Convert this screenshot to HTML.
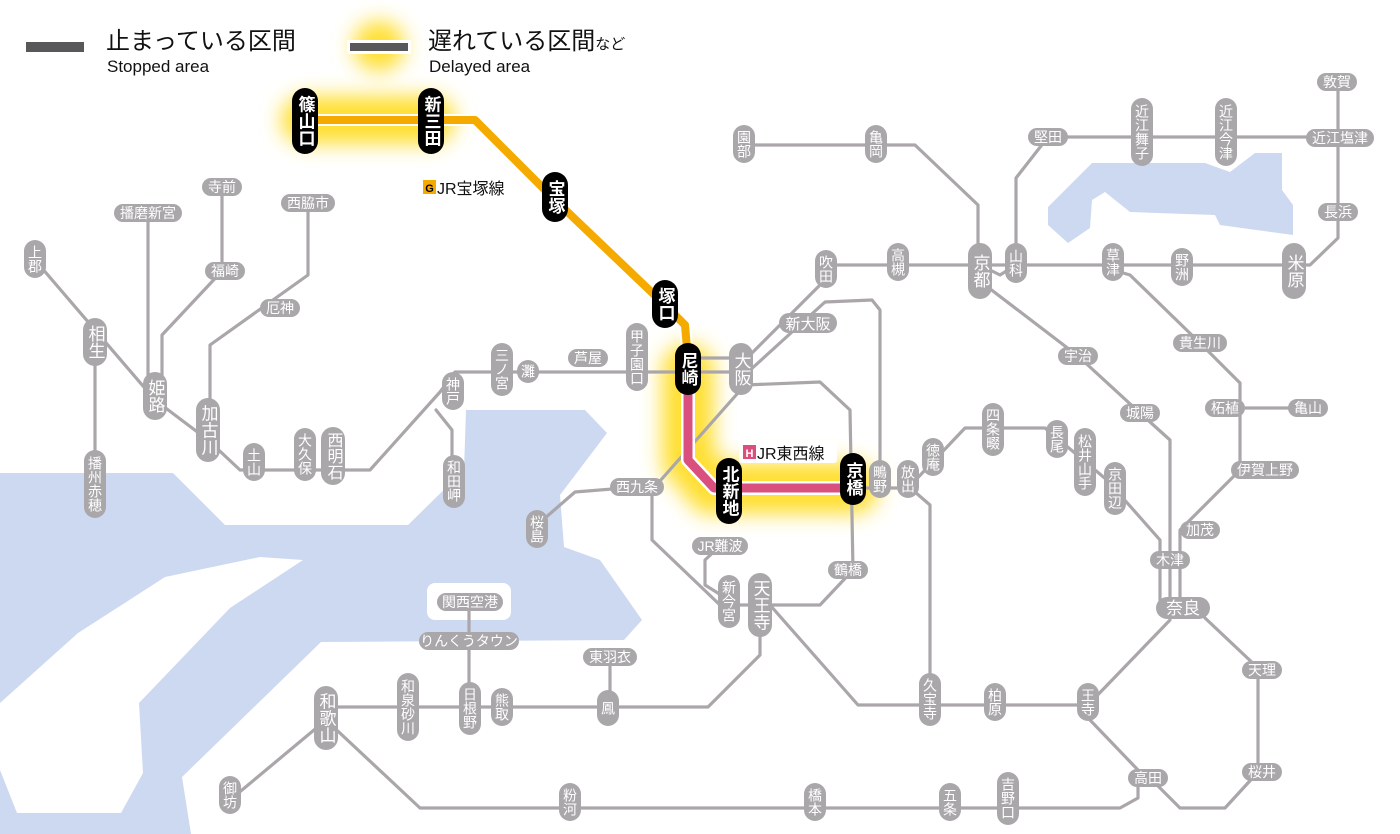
<!DOCTYPE html>
<html><head><meta charset="utf-8"><style>
html,body{margin:0;padding:0;background:#fff;}
svg{display:block;font-family:"Liberation Sans","Noto Sans CJK JP",sans-serif;}
.ln{fill:none;stroke:#aaa6aa;stroke-width:3.2;stroke-linejoin:round;stroke-linecap:round;}
.gp{fill:#a9a7a9;}
.bp{fill:#000;}
.t{fill:#fff;font-size:14px;text-anchor:middle;}
.tl{fill:#fff;font-size:17px;text-anchor:middle;}
.v{fill:#fff;font-size:14px;text-anchor:middle;writing-mode:vertical-rl;dominant-baseline:central;}
.vl{fill:#fff;font-size:17px;text-anchor:middle;writing-mode:vertical-rl;dominant-baseline:central;}
.vb{fill:#fff;font-size:17px;font-weight:bold;text-anchor:middle;writing-mode:vertical-rl;dominant-baseline:central;}
</style></head><body>
<svg width="1400" height="834" viewBox="0 0 1400 834">
<defs>
<filter id="blur" x="-50%" y="-50%" width="200%" height="200%"><feGaussianBlur stdDeviation="10"/></filter>
</defs>
<!-- water -->
<g fill="#cdd9f1">
<path d="M0,473 L173,473 L225,525 L408,525 L464,470 L466,410 L585,410 L607,433 L560,495 L564,547 L600,560 L642,620 L624,640 L321,642 L182,777 L191,834 L0,834 Z"/>
<path d="M1048,207 L1048,225 L1068,243 L1090,228 L1092,200 L1105,192 L1130,212 L1215,215 L1220,225 L1293,235 L1293,205 L1282,190 L1282,153 L1255,153 L1230,172 L1205,163 L1092,163 Z"/>
</g>
<path d="M0,703 L78,633 L165,577 L260,557 L303,560 L230,608 L139,703 L143,773 L121,813 L17,813 L0,770 Z" fill="#fff"/>
<rect x="427" y="583" width="84" height="37" rx="8" fill="#fff"/>
<!-- glows -->
<g filter="url(#blur)" fill="none" stroke="#ffdf30" stroke-linecap="round">
<path d="M305,120 L431,120" stroke-width="48"/>
<path d="M688,370 L688,460 L712,488 L853,488" stroke-width="52"/>
<path d="M378,46 L380,46" stroke-width="50"/>
</g>
<!-- gray lines -->
<g class="ln">
<path d="M35,260 L155,400 L208,440 L240,470 L370,470 L440,392 L455,372 L745,372"/>
<path d="M688,358 L745,358"/>
<path d="M95,340 L95,480"/>
<path d="M148,213 L148,392"/>
<path d="M222,187 L222,271 L162,335 L162,392"/>
<path d="M308,203 L308,275 L210,345 L210,420"/>
<path d="M436,410 L452,430 L452,480"/>
<path d="M745,385 L820,382 L850,410 L853,570 L820,605 L720,605 L652,540 L652,490 L745,385"/>
<path d="M537,525 L575,492 L637,487"/>
<path d="M745,360 L822,283 L835,265 L1310,265 L1338,238 L1338,82"/>
<path d="M748,372 L825,302 L872,300 L880,310 L880,480"/>
<path d="M980,265 L1000,275 L1016,265"/>
<path d="M1016,265 L1016,178 L1048,137 L1338,137"/>
<path d="M978,250 L978,205 L915,145 L744,145"/>
<path d="M1113,270 L1130,275 L1200,343 L1240,383 L1240,470 L1180,530 L1180,600"/>
<path d="M1240,408 L1308,408"/>
<path d="M985,285 L1078,356 L1140,413 L1170,440 L1170,600"/>
<path d="M853,488 L908,488 L965,428 L1045,428 L1107,480 L1160,540 L1160,600"/>
<path d="M915,492 L930,505 L930,705"/>
<path d="M770,605 L858,705 L1088,705 L1170,620"/>
<path d="M1205,618 L1258,668 L1258,772 L1225,808 L1180,808 L1150,778"/>
<path d="M1090,720 L1138,770 L1138,798 L1120,808 L420,808 L326,720 L230,800"/>
<path d="M760,620 L760,655 L708,707 L330,707"/>
<path d="M469,602 L469,705"/>
<path d="M610,657 L610,705"/>
<path d="M720,546 L705,560 L705,585 L729,600"/>
</g>
<!-- highlighted lines -->
<g fill="none" stroke-linejoin="round" stroke-linecap="round">
<path d="M305,120 L475,120 L555,200 L665,305 L685,325 L688,360" stroke="#fff" stroke-width="12"/>
<path d="M305,120 L475,120 L555,200 L665,305 L685,325 L688,360" stroke="#f5aa00" stroke-width="8"/>
<path d="M688,370 L688,460 L714,488 L853,488" stroke="#fff" stroke-width="14"/>
<path d="M688,370 L688,460 L714,488 L853,488" stroke="#d9507f" stroke-width="9"/>
</g>
<!-- legend -->
<rect x="26" y="42" width="58" height="10" fill="#58585a"/>
<rect x="347" y="40" width="64" height="14" fill="#fff"/>
<rect x="350" y="43" width="58" height="8" fill="#58585a"/>
<text x="106" y="49" font-size="24" fill="#111">止まっている区間</text>
<text x="107" y="72" font-size="17" fill="#111">Stopped area</text>
<text x="428" y="49" font-size="24" fill="#111">遅れている区間<tspan font-size="15">など</tspan></text>
<text x="429" y="72" font-size="17" fill="#111">Delayed area</text>
<!-- line labels -->
<rect x="419" y="176" width="100" height="22" rx="3" fill="#fff"/>
<rect x="423" y="180" width="13" height="14" fill="#f5aa00"/>
<text x="429.5" y="192" font-size="11" font-weight="bold" text-anchor="middle" fill="#000">G</text>
<text x="437" y="194" font-size="16" fill="#111">JR宝塚線</text>
<rect x="739" y="441" width="98" height="22" rx="3" fill="#fff"/>
<rect x="743" y="445" width="13" height="14" fill="#d9507f"/>
<text x="749.5" y="457" font-size="11" font-weight="bold" text-anchor="middle" fill="#fff">H</text>
<text x="757" y="459" font-size="16" fill="#111">JR東西線</text>
<!-- vertical gray labels -->
<g>
<rect class="gp" x="24" y="240" width="22" height="38" rx="11"/><text class="v" x="35" y="259">上郡</text>
<rect class="gp" x="83" y="318" width="24" height="48" rx="12"/><text class="vl" x="95" y="342">相生</text>
<rect class="gp" x="84" y="450" width="22" height="68" rx="11"/><text class="v" x="95" y="484">播州赤穂</text>
<rect class="gp" x="143" y="372" width="24" height="48" rx="12"/><text class="vl" x="155" y="396">姫路</text>
<rect class="gp" x="196" y="398" width="24" height="64" rx="12"/><text class="vl" x="208" y="430">加古川</text>
<rect class="gp" x="243" y="443" width="22" height="38" rx="11"/><text class="v" x="254" y="462">土山</text>
<rect class="gp" x="294" y="428" width="22" height="53" rx="11"/><text class="v" x="305" y="454">大久保</text>
<rect class="gp" x="321" y="427" width="24" height="58" rx="12"/><text class="v" x="333" y="456" style="font-size:16px">西明石</text>
<rect class="gp" x="442" y="372" width="22" height="38" rx="11"/><text class="v" x="453" y="391">神戸</text>
<rect class="gp" x="443" y="455" width="22" height="53" rx="11"/><text class="v" x="454" y="481">和田岬</text>
<rect class="gp" x="491" y="343" width="22" height="53" rx="11"/><text class="v" x="502" y="369">三ノ宮</text>
<rect class="gp" x="517" y="360" width="22" height="23" rx="11"/><text class="v" x="528" y="371">灘</text>
<rect class="gp" x="626" y="323" width="22" height="68" rx="11"/><text class="v" x="637" y="357">甲子園口</text>
<rect class="gp" x="729" y="343" width="24" height="52" rx="12"/><text class="vl" x="741" y="369">大阪</text>
<rect class="gp" x="526" y="510" width="22" height="38" rx="11"/><text class="v" x="537" y="529">桜島</text>
<rect class="gp" x="869" y="460" width="22" height="38" rx="11"/><text class="v" x="880" y="479">鴫野</text>
<rect class="gp" x="897" y="460" width="22" height="38" rx="11"/><text class="v" x="908" y="479">放出</text>
<rect class="gp" x="922" y="438" width="22" height="38" rx="11"/><text class="v" x="933" y="457">徳庵</text>
<rect class="gp" x="982" y="403" width="22" height="53" rx="11"/><text class="v" x="993" y="429">四条畷</text>
<rect class="gp" x="1046" y="420" width="22" height="38" rx="11"/><text class="v" x="1057" y="439">長尾</text>
<rect class="gp" x="1074" y="428" width="22" height="68" rx="11"/><text class="v" x="1085" y="462">松井山手</text>
<rect class="gp" x="1104" y="462" width="22" height="53" rx="11"/><text class="v" x="1115" y="488">京田辺</text>
<rect class="gp" x="718" y="575" width="22" height="53" rx="11"/><text class="v" x="729" y="601">新今宮</text>
<rect class="gp" x="748" y="573" width="24" height="64" rx="12"/><text class="vl" x="760" y="605">天王寺</text>
<rect class="gp" x="314" y="686" width="24" height="64" rx="12"/><text class="vl" x="326" y="718">和歌山</text>
<rect class="gp" x="397" y="673" width="22" height="68" rx="11"/><text class="v" x="408" y="707">和泉砂川</text>
<rect class="gp" x="459" y="682" width="22" height="53" rx="11"/><text class="v" x="470" y="708">日根野</text>
<rect class="gp" x="491" y="688" width="22" height="38" rx="11"/><text class="v" x="502" y="707">熊取</text>
<rect class="gp" x="597" y="690" width="22" height="36" rx="11"/><text class="v" x="608" y="708">鳳</text>
<rect class="gp" x="219" y="776" width="22" height="38" rx="11"/><text class="v" x="230" y="795">御坊</text>
<rect class="gp" x="559" y="783" width="22" height="38" rx="11"/><text class="v" x="570" y="802">粉河</text>
<rect class="gp" x="804" y="783" width="22" height="38" rx="11"/><text class="v" x="815" y="802">橋本</text>
<rect class="gp" x="939" y="783" width="22" height="38" rx="11"/><text class="v" x="950" y="802">五条</text>
<rect class="gp" x="997" y="772" width="22" height="53" rx="11"/><text class="v" x="1008" y="798">吉野口</text>
<rect class="gp" x="919" y="673" width="22" height="53" rx="11"/><text class="v" x="930" y="699">久宝寺</text>
<rect class="gp" x="984" y="683" width="22" height="38" rx="11"/><text class="v" x="995" y="702">柏原</text>
<rect class="gp" x="1077" y="683" width="22" height="38" rx="11"/><text class="v" x="1088" y="702">王寺</text>
<rect class="gp" x="1102" y="243" width="22" height="38" rx="11"/><text class="v" x="1113" y="262">草津</text>
<rect class="gp" x="1171" y="248" width="22" height="38" rx="11"/><text class="v" x="1182" y="267">野洲</text>
<rect class="gp" x="1282" y="243" width="24" height="56" rx="12"/><text class="vl" x="1294" y="271">米原</text>
<rect class="gp" x="1215" y="98" width="22" height="68" rx="11"/><text class="v" x="1226" y="132">近江今津</text>
<rect class="gp" x="1131" y="98" width="22" height="68" rx="11"/><text class="v" x="1142" y="132">近江舞子</text>
<rect class="gp" x="1005" y="243" width="22" height="40" rx="11"/><text class="v" x="1016" y="263">山科</text>
<rect class="gp" x="968" y="243" width="24" height="56" rx="12"/><text class="vl" x="980" y="271">京都</text>
<rect class="gp" x="887" y="243" width="22" height="38" rx="11"/><text class="v" x="898" y="262">高槻</text>
<rect class="gp" x="815" y="250" width="22" height="38" rx="11"/><text class="v" x="826" y="269">吹田</text>
<rect class="gp" x="733" y="125" width="22" height="38" rx="11"/><text class="v" x="744" y="144">園部</text>
<rect class="gp" x="865" y="125" width="22" height="38" rx="11"/><text class="v" x="876" y="144">亀岡</text>
</g>
<!-- horizontal gray labels -->
<g>
<rect class="gp" x="568" y="349" width="40" height="18" rx="9"/><text class="t" x="588" y="363">芦屋</text>
<rect class="gp" x="1128" y="769" width="40" height="18" rx="9"/><text class="t" x="1148" y="783">高田</text>
<rect class="gp" x="1242" y="763" width="40" height="18" rx="9"/><text class="t" x="1262" y="777">桜井</text>
<rect class="gp" x="1242" y="661" width="40" height="18" rx="9"/><text class="t" x="1262" y="675">天理</text>
<rect class="gp" x="1156" y="597" width="54" height="22" rx="11"/><text class="tl" x="1183" y="614">奈良</text>
<rect class="gp" x="1150" y="551" width="40" height="18" rx="9"/><text class="t" x="1170" y="565">木津</text>
<rect class="gp" x="1180" y="521" width="40" height="18" rx="9"/><text class="t" x="1200" y="535">加茂</text>
<rect class="gp" x="1231" y="461" width="68" height="18" rx="9"/><text class="t" x="1265" y="475">伊賀上野</text>
<rect class="gp" x="1205" y="399" width="40" height="18" rx="9"/><text class="t" x="1225" y="413">柘植</text>
<rect class="gp" x="1288" y="399" width="40" height="18" rx="9"/><text class="t" x="1308" y="413">亀山</text>
<rect class="gp" x="1120" y="404" width="40" height="18" rx="9"/><text class="t" x="1140" y="418">城陽</text>
<rect class="gp" x="1058" y="347" width="40" height="18" rx="9"/><text class="t" x="1078" y="361">宇治</text>
<rect class="gp" x="1173" y="334" width="54" height="18" rx="9"/><text class="t" x="1200" y="348">貴生川</text>
<rect class="gp" x="1318" y="203" width="40" height="18" rx="9"/><text class="t" x="1338" y="217">長浜</text>
<rect class="gp" x="1306" y="129" width="68" height="18" rx="9"/><text class="t" x="1340" y="143">近江塩津</text>
<rect class="gp" x="1317" y="73" width="40" height="18" rx="9"/><text class="t" x="1337" y="87">敦賀</text>
<rect class="gp" x="1028" y="128" width="40" height="18" rx="9"/><text class="t" x="1048" y="142">堅田</text>
<rect class="gp" x="779" y="313" width="58" height="20" rx="10"/><text class="t" x="808" y="329" style="font-size:15px">新大阪</text>
<rect class="gp" x="202" y="178" width="40" height="18" rx="9"/><text class="t" x="222" y="192">寺前</text>
<rect class="gp" x="114" y="204" width="68" height="18" rx="9"/><text class="t" x="148" y="218">播磨新宮</text>
<rect class="gp" x="281" y="194" width="54" height="18" rx="9"/><text class="t" x="308" y="208">西脇市</text>
<rect class="gp" x="205" y="262" width="40" height="18" rx="9"/><text class="t" x="225" y="276">福崎</text>
<rect class="gp" x="260" y="299" width="40" height="18" rx="9"/><text class="t" x="280" y="313">厄神</text>
<rect class="gp" x="610" y="478" width="54" height="18" rx="9"/><text class="t" x="637" y="492">西九条</text>
<rect class="gp" x="692" y="537" width="56" height="18" rx="9"/><text class="t" x="720" y="551">JR難波</text>
<rect class="gp" x="828" y="561" width="40" height="18" rx="9"/><text class="t" x="848" y="575">鶴橋</text>
<rect class="gp" x="437" y="593" width="66" height="18" rx="9"/><text class="t" x="470" y="607">関西空港</text>
<rect class="gp" x="419" y="632" width="100" height="18" rx="9"/><text class="t" x="469" y="646">りんくうタウン</text>
<rect class="gp" x="583" y="648" width="54" height="18" rx="9"/><text class="t" x="610" y="662">東羽衣</text>
</g>
<!-- black labels -->
<g>
<rect class="bp" x="292" y="88" width="26" height="66" rx="13"/><text class="vb" x="305" y="121">篠山口</text>
<rect class="bp" x="418" y="88" width="26" height="66" rx="13"/><text class="vb" x="431" y="121">新三田</text>
<rect class="bp" x="542" y="172" width="26" height="50" rx="13"/><text class="vb" x="555" y="197">宝塚</text>
<rect class="bp" x="652" y="280" width="26" height="48" rx="13"/><text class="vb" x="665" y="304">塚口</text>
<rect class="bp" x="675" y="343" width="26" height="52" rx="13"/><text class="vb" x="688" y="369">尼崎</text>
<rect class="bp" x="716" y="458" width="26" height="66" rx="13"/><text class="vb" x="729" y="491">北新地</text>
<rect class="bp" x="840" y="453" width="26" height="52" rx="13"/><text class="vb" x="853" y="479">京橋</text>
</g>
</svg>
</body></html>
